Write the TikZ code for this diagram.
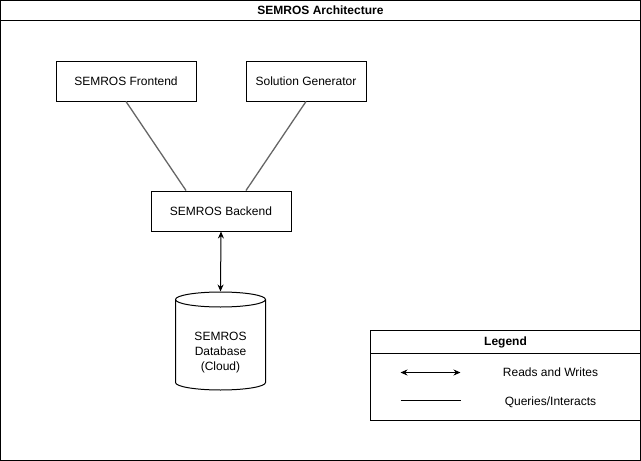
\documentclass[tikz,border=0pt]{standalone}
\usepackage{fontspec}
\setmainfont{Liberation Sans}
\usetikzlibrary{arrows.meta,calc}
\definecolor{edgegray}{HTML}{666666}
\begin{document}
\begin{tikzpicture}[x=1pt,y=-1pt,
  every node/.style={font=\fontsize{12}{14}\selectfont, inner sep=0pt},
  boxnode/.style={draw=black, line width=1pt, fill=white, anchor=north west},
  query/.style={draw=edgegray, line width=1.3pt},
  rw/.style={draw=black, line width=1pt, {Stealth[length=7pt,width=6pt]}-{Stealth[length=7pt,width=6pt]}},
  plainline/.style={draw=black, line width=1pt},
  lbl/.style={font=\fontsize{12}{14}\selectfont}]
\useasboundingbox (0,0) rectangle (641,461);
% outer frame
\draw[line width=1pt] (0.5,0.5) rectangle (640.5,460.5);
\draw[line width=1pt] (0.5,20.5) -- (640.5,20.5);
\node[font=\fontsize{12}{14}\selectfont\bfseries] (title) at (320.5,10.5) {SEMROS Architecture};
% boxes
\node[boxnode, minimum width=140pt, minimum height=40pt] (fe) at (55.5,60.5) {SEMROS Frontend};
\node[boxnode, minimum width=120pt, minimum height=40pt] (sg) at (245.5,60.5) {Solution Generator};
\node[boxnode, minimum width=140pt, minimum height=40pt] (be) at (150.5,190.5) {SEMROS Backend};
% cylinder
\draw[line width=1pt, fill=white] (175.5,299.5) -- (175.5,382.5) arc[start angle=180, end angle=360, x radius=45pt, y radius=7.5pt] -- (265.5,299.5) arc[start angle=0, end angle=180, x radius=45pt, y radius=7.5pt] -- cycle;
\draw[line width=1pt] (175.5,299.5) arc[start angle=180, end angle=360, x radius=45pt, y radius=7.5pt];
\coordinate (dbtop) at (220.5,291.5);
\node[align=center, font=\fontsize{12}{15}\selectfont] (db) at (220.5,353) {SEMROS\\Database\\(Cloud)};
% connectors
\draw[query] (fe.south) -- ($(be.north)+(-35,0)$);
\draw[query] (sg.south) -- ($(be.north)+(25,0)$);
\draw[rw] (be.south) -- (dbtop);
% legend
\draw[line width=1pt] (370.5,330.5) rectangle (640.5,420.5);
\draw[line width=1pt] (370.5,353.5) -- (640.5,353.5);
\node[font=\fontsize{12}{14}\selectfont\bfseries] (lgtitle) at (505.5,342) {Legend};
\coordinate (la1) at (400.5,372.5);
\coordinate (la2) at (460.5,372.5);
\draw[rw] (la1) -- (la2);
\node[lbl] (lrw) at (550.5,372.5) {Reads and Writes};
\coordinate (lb1) at (400.5,400.5);
\coordinate (lb2) at (460.5,400.5);
\draw[plainline] (lb1) -- (lb2);
\node[lbl] (lq) at (550.5,402) {Queries/Interacts};
\end{tikzpicture}
\end{document}
